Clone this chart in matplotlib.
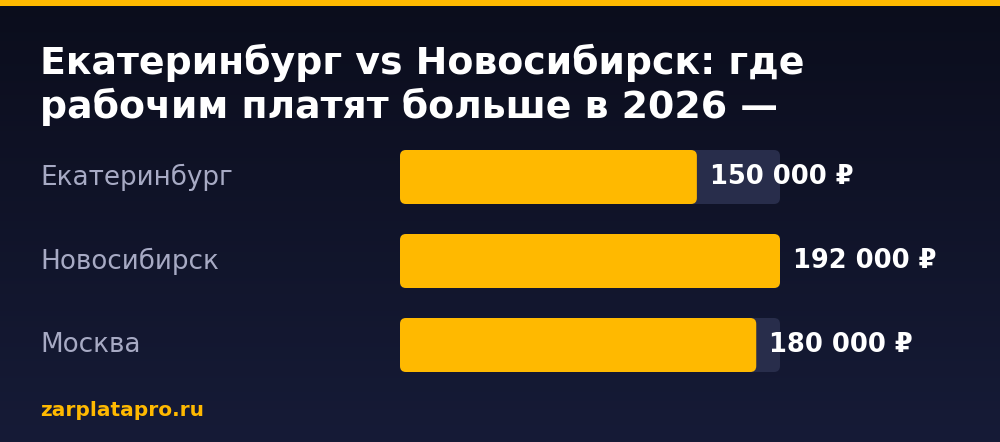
import numpy as np
import matplotlib
matplotlib.use("Agg")
import matplotlib.pyplot as plt
from matplotlib.patches import FancyBboxPatch, Rectangle
from matplotlib.transforms import blended_transform_factory

# data
cities = ["Екатеринбург", "Новосибирск", "Москва"]
salaries = [150000, 192000, 180000]
title = "Екатеринбург vs Новосибирск: где\nрабочим платят больше в 2026 —"
source = "zarplatapro.ru"

YELLOW = "#ffb900"
TRACK = "#282d4b"
W, H = 1000, 442
DPI = 100

fig = plt.figure(figsize=(W / DPI, H / DPI), dpi=DPI)

# background gradient
bg = fig.add_axes([0, 0, 1, 1])
bg.set_axis_off()
grad = np.linspace(0, 1, 256).reshape(-1, 1)
top = np.array([0x0b, 0x0d, 0x1c]) / 255
bot = np.array([0x16, 0x1b, 0x37]) / 255
img = top + (bot - top) * grad[:, :, None]
bg.imshow(img, aspect="auto", extent=[0, W, H, 0])
bg.set_xlim(0, W)
bg.set_ylim(H, 0)
bg.add_patch(Rectangle((0, 0), W, 6, color=YELLOW, lw=0))

fig.text(40 / W, 1 - 44 / H, title, color="white", fontsize=27.3, fontweight="bold",
         va="top", ha="left", linespacing=1.2)
fig.text(40 / W, 1 - 411 / H, source, color=YELLOW, fontsize=14.5, fontweight="bold",
         va="center", ha="left")

# bar axes: 400..780 px wide, one category per 84 px
ax = fig.add_axes([400 / W, (H - 387) / H, 380 / W, 252 / H])
ax.set_axis_off()
vmax = max(salaries)
ax.set_xlim(0, vmax)
ax.set_ylim(len(cities) - 0.5, -0.5)

bar_h = 54 / 84
x_per_px = vmax / 380
y_per_px = 1 / 84
rad = 6 * x_per_px
aspect = y_per_px / x_per_px


def rbar(x0, y0, w, h, color):
    p = FancyBboxPatch((x0, y0), w, h,
                       boxstyle=f"round,pad=0,rounding_size={rad}",
                       mutation_aspect=aspect, fc=color, ec="none", lw=0)
    ax.add_patch(p)


trans = blended_transform_factory(fig.transFigure, ax.transData)
for i, (c, v) in enumerate(zip(cities, salaries)):
    rbar(0, i - bar_h / 2, vmax, bar_h, TRACK)
    rbar(0, i - bar_h / 2, v, bar_h, YELLOW)
    label = f"{v:,}".replace(",", " ") + " ₽"
    ax.annotate(label, (v, i), xytext=(13, 0), textcoords="offset pixels",
                color="white", fontsize=18.5, fontweight="bold", va="center", ha="left")
    ax.text(40 / W, i, c, transform=trans, color="#a7aac4", fontsize=18.9,
            va="center", ha="left")

fig.savefig("out.png", dpi=DPI)
